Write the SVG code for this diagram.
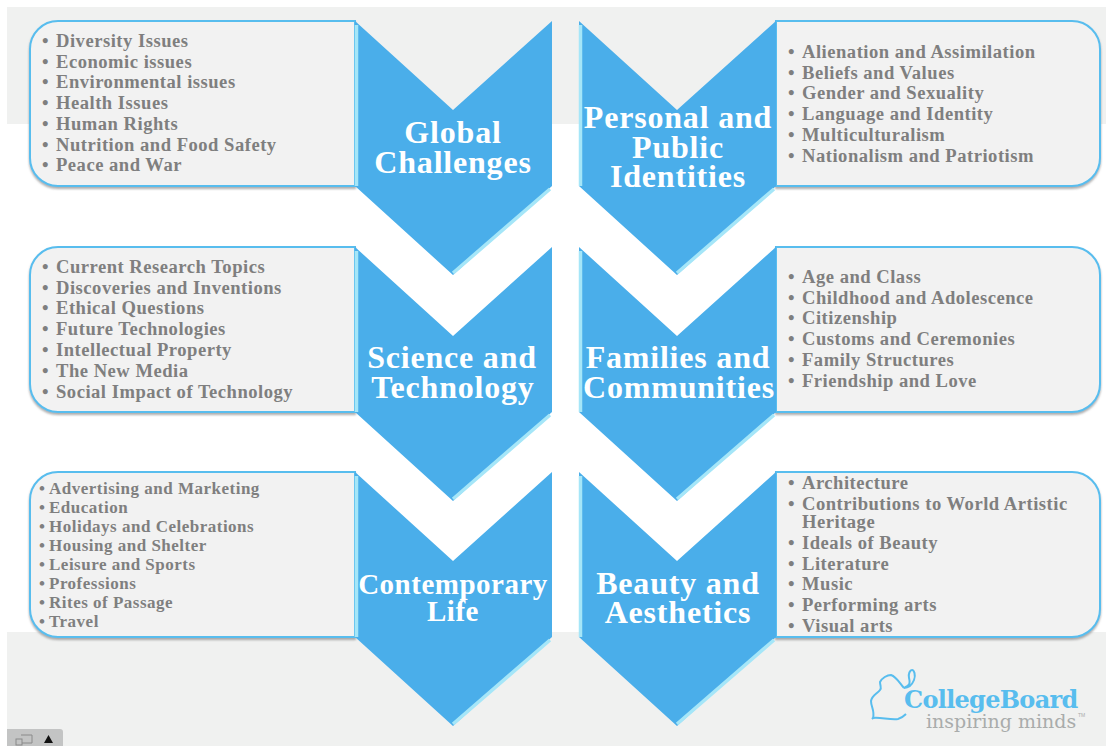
<svg xmlns="http://www.w3.org/2000/svg" width="1106" height="746" viewBox="0 0 1106 746">
<style>
text{font-family:"Liberation Serif","DejaVu Serif",serif;font-weight:700}
.i{font-size:18.6px;fill:#7f7f7f;letter-spacing:.5px}
.s{font-size:17px;fill:#7f7f7f;letter-spacing:.5px}
.t{font-size:32px;fill:#fff;text-anchor:middle;letter-spacing:.8px}
.u{font-size:29px;fill:#fff;text-anchor:middle;letter-spacing:.5px}
.p{fill:#f2f2f2;stroke:#58bdee;stroke-width:2;filter:url(#sh)}
.c{fill:#4aaeea}
.h{fill:none;stroke:#a5e6f8;stroke-width:3.5}
</style>
<defs>
<filter id="sh" x="-5%" y="-5%" width="110%" height="112%"><feDropShadow dx="0" dy="2" stdDeviation="1.2" flood-color="#777" flood-opacity=".6"/></filter>
<path id="lp" d="M355 21H58a28 28 0 0 0-28 28V158a28 28 0 0 0 28 28H355Z"/>
<path id="rp" d="M776 21H1072a28 28 0 0 1 28 28V158a28 28 0 0 1-28 28H776Z"/>
<g id="chev"><path class="c" d="M0 0L98 89L197 0V165L98 254L0 165Z"/><path class="h" d="M1.500 4V165M195 168L98 252"/></g>
</defs>
<rect x="7" y="7" width="1099" height="117" fill="#f0f1f0"/>
<rect x="7" y="632" width="1099" height="114" fill="#f0f1f0"/>

<g id="global-challenges">
<use href="#lp" class="p"/><use href="#chev" x="355" y="21"/>
<text class="i"><tspan x="42" y="47">• </tspan><tspan x="56">Diversity Issues</tspan><tspan x="42" y="68">• </tspan><tspan x="56">Economic issues</tspan><tspan x="42" y="88">• </tspan><tspan x="56">Environmental issues</tspan><tspan x="42" y="109">• </tspan><tspan x="56">Health Issues</tspan><tspan x="42" y="130">• </tspan><tspan x="56">Human Rights</tspan><tspan x="42" y="151">• </tspan><tspan x="56">Nutrition and Food Safety</tspan><tspan x="42" y="171">• </tspan><tspan x="56">Peace and War</tspan></text>
<text class="t" x="453" y="143">Global</text><text class="t" x="453" y="173">Challenges</text>
</g>
<g id="personal-identities">
<use href="#rp" class="p"/><use href="#chev" x="579" y="21"/>
<text class="i"><tspan x="788" y="58">• </tspan><tspan x="802">Alienation and Assimilation</tspan><tspan x="788" y="79">• </tspan><tspan x="802">Beliefs and Values</tspan><tspan x="788" y="99">• </tspan><tspan x="802">Gender and Sexuality</tspan><tspan x="788" y="120">• </tspan><tspan x="802">Language and Identity</tspan><tspan x="788" y="141">• </tspan><tspan x="802">Multiculturalism</tspan><tspan x="788" y="162">• </tspan><tspan x="802">Nationalism and Patriotism</tspan></text>
<text class="t" x="678" y="128">Personal and</text><text class="t" x="678" y="158">Public</text><text class="t" x="678" y="187">Identities</text>
</g>
<g id="science-technology">
<use href="#lp" class="p" y="226"/><use href="#chev" x="355" y="247"/>
<text class="i"><tspan x="42" y="273">• </tspan><tspan x="56">Current Research Topics</tspan><tspan x="42" y="294">• </tspan><tspan x="56">Discoveries and Inventions</tspan><tspan x="42" y="314">• </tspan><tspan x="56">Ethical Questions</tspan><tspan x="42" y="335">• </tspan><tspan x="56">Future Technologies</tspan><tspan x="42" y="356">• </tspan><tspan x="56">Intellectual Property</tspan><tspan x="42" y="377">• </tspan><tspan x="56">The New Media</tspan><tspan x="42" y="398">• </tspan><tspan x="56">Social Impact of Technology</tspan></text>
<text class="t" x="452" y="368">Science and</text><text class="t" x="453" y="398">Technology</text>
</g>
<g id="families-communities">
<use href="#rp" class="p" y="226"/><use href="#chev" x="579" y="247"/>
<text class="i"><tspan x="788" y="283">• </tspan><tspan x="802">Age and Class</tspan><tspan x="788" y="304">• </tspan><tspan x="802">Childhood and Adolescence</tspan><tspan x="788" y="324">• </tspan><tspan x="802">Citizenship</tspan><tspan x="788" y="345">• </tspan><tspan x="802">Customs and Ceremonies</tspan><tspan x="788" y="366">• </tspan><tspan x="802">Family Structures</tspan><tspan x="788" y="387">• </tspan><tspan x="802">Friendship and Love</tspan></text>
<text class="t" x="678" y="368">Families and</text><text class="t" x="679" y="398">Communities</text>
</g>
<g id="contemporary-life">
<use href="#lp" class="p" y="451"/><use href="#chev" x="355" y="472"/>
<text class="s"><tspan x="39" y="494">•</tspan><tspan x="49">Advertising and Marketing</tspan><tspan x="39" y="513">•</tspan><tspan x="49">Education</tspan><tspan x="39" y="532">•</tspan><tspan x="49">Holidays and Celebrations</tspan><tspan x="39" y="551">•</tspan><tspan x="49">Housing and Shelter</tspan><tspan x="39" y="570">•</tspan><tspan x="49">Leisure and Sports</tspan><tspan x="39" y="589">•</tspan><tspan x="49">Professions</tspan><tspan x="39" y="608">•</tspan><tspan x="49">Rites of Passage</tspan><tspan x="39" y="627">•</tspan><tspan x="49">Travel</tspan></text>
<text class="u" x="453" y="594">Contemporary</text><text class="u" x="453" y="621">Life</text>
</g>
<g id="beauty-aesthetics">
<use href="#rp" class="p" y="451"/><use href="#chev" x="579" y="472"/>
<text class="i"><tspan x="788" y="489">• </tspan><tspan x="802">Architecture</tspan><tspan x="788" y="510">• </tspan><tspan x="802">Contributions to World Artistic</tspan><tspan x="802" y="528">Heritage</tspan><tspan x="788" y="549">• </tspan><tspan x="802">Ideals of Beauty</tspan><tspan x="788" y="570">• </tspan><tspan x="802">Literature</tspan><tspan x="788" y="590">• </tspan><tspan x="802">Music</tspan><tspan x="788" y="611">• </tspan><tspan x="802">Performing arts</tspan><tspan x="788" y="632">• </tspan><tspan x="802">Visual arts</tspan></text>
<text class="t" x="678" y="594">Beauty and</text><text class="t" x="678" y="623">Aesthetics</text>
</g>
<g id="logo">
<path d="M872 719L873 718C880 717 890 720 898 719C902 718 904 716 906 714M904 688C900 684 897 677 891 675C887 675 882 678 880 682C880 686 882 688 880 690C877 694 872 695 871 701C871 707 875 711 873 718M904 688C908 688 912 685 914 680C916 675 914 670 912 670C910 670 908 674 909 678C910 682 911 685 904 688" fill="none" stroke="#58bdee" stroke-width="2"/>
<text x="904" y="708" style="font-family:'DejaVu Serif',serif;font-size:24px;fill:#58bdee;letter-spacing:-.7px">CollegeBoard</text>
<text x="926" y="728" style="font-family:'DejaVu Serif',serif;font-weight:400;font-size:19px;fill:#a9acab;letter-spacing:0">inspiring minds</text>
<text x="1078" y="717" style="font-family:'Liberation Sans',sans-serif;font-weight:400;font-size:5px;fill:#a9acab">TM</text>
</g>
<g id="toolbar">
<path d="M7 746V729H60a3 3 0 0 1 3 3V746Z" fill="#c3c4c4"/>
<path d="M21 735H32V743H22" fill="none" stroke="#8a8a8a"/><rect x="16" y="739" width="6" height="6" fill="none" stroke="#8a8a8a"/>
<path d="M44 743L48.500 735L53 743Z" fill="#111"/>
</g>
</svg>
